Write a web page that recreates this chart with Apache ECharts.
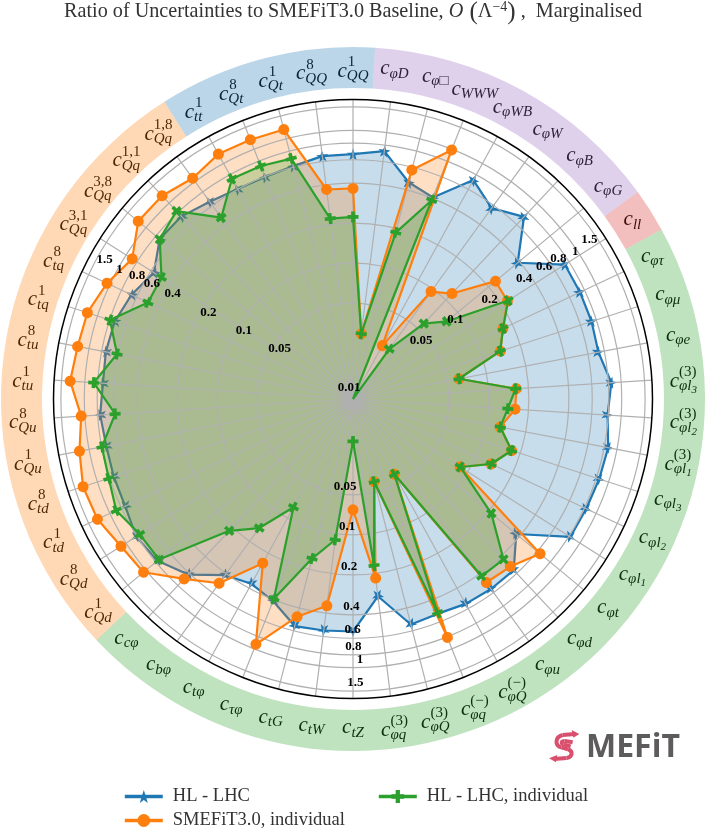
<!DOCTYPE html>
<html>
<head>
<meta charset="utf-8">
<style>html,body{margin:0;padding:0;background:#fff}#c{width:706px;height:829px}</style>
<script src="https://cdn.jsdelivr.net/npm/echarts@6/dist/echarts.min.js"></script>
</head>
<body>
<div id="c"></div>
<script>
// Coefficient labels, clockwise from north: sub^sup, "_" starts a second-level subscript
const coefficients = [
 'QQ^1','φD','φ□','WWW','φWB','φW','φB','φG','ll','φτ','φμ','φe',
 'φl_3^(3)','φl_2^(3)','φl_1^(3)','φl_3','φl_2','φl_1','φt','φd','φu',
 'φQ^(−)','φq^(−)','φQ^(3)','φq^(3)','tZ','tW','tG','τφ','tφ','bφ','cφ',
 'Qd^1','Qd^8','td^1','td^8','Qu^1','Qu^8','tu^1','tu^8','tq^1','tq^8',
 'Qq^3,1','Qq^3,8','Qq^1,1','Qq^1,8','tt^1','Qt^8','Qt^1','QQ^8'
];
const hlLhc = [.661,.721,.459,.407,.721,.566,.721,.386,.734,.734,.734,.721,.843,.79,.857,.843,.828,.822,.373,.556,.556,.546,.519,.537,.298,.534,.542,.552,.41,.367,.414,.617,.773,.814,.746,.743,.738,.766,.73,.744,.731,.661,.566,.734,.73,.65,.604,.596,.613,.661];
const smefit = [.365,.0297,.571,.985,.0273,.0949,.1165,.234,.226,.168,.139,.0616,.162,.1585,.1275,.171,.134,.0856,.639,.51,.484,.042,.808,.0417,.217,.0648,.352,.467,.919,.244,.492,.684,1.056,1.112,1.268,1.3,1.184,1.065,1.291,1.224,1.202,1.056,.883,1.19,1.192,1.074,1.205,1.192,1.179,.369];
const hlIndividual = [.223,.0297,.1866,.386,.0095,.0277,.057,.0782,.2297,.168,.139,.0616,.1597,.1397,.1275,.171,.134,.0856,.213,.429,.421,.042,.51,.0417,.174,.0198,.111,.165,.393,.0808,.1507,.218,.746,.756,.885,.814,.797,.591,.857,.61,.797,.482,.484,.734,.828,.462,.74,.731,.701,.222];
const ringTicks = [0.05,0.1,0.2,0.4,0.6,0.8,1,1.5];
const tickLabels = ['0.05','0.1','0.2','0.4','0.6','0.8','1','1.5'];
const bandCounts = [7,1,23,14,5];

// layout and style
const CX = 353, CY = 399, R = 299.5;
const RMIN = 0.0095, RMAX = 1.705, LABEL_R = 2.94;
const SERIF = '"Liberation Serif", serif';
const BLUE='#1f77b4', ORANGE='#ff7f0e', GREEN='#2ca02c';
const bandColors = ['rgba(148,103,189,.3)','rgba(214,39,40,.3)','rgba(44,160,44,.3)','rgba(255,127,14,.3)','rgba(31,119,180,.3)'];
const STAR='path://M0,-10L2.35,-3.24L9.51,-3.09L3.8,1.24L5.88,8.09L0,4L-5.88,8.09L-3.8,1.24L-9.51,-3.09L-2.35,-3.24Z';
const PLUS='path://M-1,-3H1V-1H3V1H1V3H-1V1H-3V-1H-1Z';
const tickDirs = [{a:59,dx:-14,dy:-9,one:6},{a:297,dx:12,dy:-7,one:-6},{a:177,dx:-13,dy:-8,one:6}];

const N = coefficients.length;
const theta = i => i*360/N;
const closed = arr => arr.map((v,i)=>[v,theta(i)]).concat([[arr[0],360]]);

const ctx = document.createElement('canvas').getContext('2d');
const tw = (t,font) => { ctx.font = font; return ctx.measureText(t).width; };
const F_C = 'italic 21px '+SERIF, F_S = 'italic 15px '+SERIF, F_SS='italic 11px '+SERIF, F_U='15px '+SERIF;

function renderCoefficient(params, api){
  const p = api.coord([api.value(0), api.value(1)]);
  const [subPart, sup] = coefficients[params.dataIndex].split('^');
  const [sub, subsub] = subPart.split('_');
  const w0 = tw('c',F_C), wSub = tw(sub,F_S)+(subsub?tw(subsub,F_SS):0), wSup = sup?tw(sup,F_U):0;
  const total = w0+Math.max(wSub,wSup);
  const x0 = p[0]-total/2;
  const y0 = p[1]+(sup?3:-2);
  const fill='#000';
  const kids=[
    {type:'text',style:{text:'c',x:x0,y:y0,font:F_C,fill,align:'left',verticalAlign:'middle'}},
    {type:'text',style:{text:sub,x:x0+w0,y:y0+5,font:F_S,fill,align:'left',verticalAlign:'middle'}}
  ];
  if(subsub) kids.push({type:'text',style:{text:subsub,x:x0+w0+tw(sub,F_S),y:y0+9,font:F_SS,fill,align:'left',verticalAlign:'middle'}});
  if(sup) kids.push({type:'text',style:{text:sup,x:x0+w0+(sup.length>2?0:1),y:y0-9,font:F_U,fill,align:'left',verticalAlign:'middle'}});
  return {type:'group',children:kids};
}
function renderRing(params, api){
  const c = params.coordSys;
  const p = api.coord([api.value(0),0]);
  return {type:'circle',shape:{cx:c.cx,cy:c.cy,r:Math.hypot(p[0]-c.cx,p[1]-c.cy)},style:{fill:'none',stroke:'#b0b0b0',lineWidth:1.2}};
}
const tickData=[];
tickDirs.forEach(d=>ringTicks.forEach((v,i)=>tickData.push([v,d.a,d.dx+(tickLabels[i]==='1'?d.one:0),d.dy,tickLabels[i]])));
tickData.push([0.01,0,-4,-8,'0.01']);
function renderTick(params, api){
  const row = tickData[params.dataIndex];
  const p = api.coord([row[0],row[1]]);
  return {type:'text',style:{text:row[4],x:p[0]+row[2],y:p[1]+row[3],font:'bold 13px '+SERIF,fill:'#000',align:'center',verticalAlign:'middle'}};
}
const area=(name,arr,color,z)=>({name,type:'line',coordinateSystem:'polar',data:closed(arr),z,silent:true,symbol:'none',
  lineStyle:{width:0,opacity:0},areaStyle:{color,opacity:.25,origin:'start'},clip:false});
const line=(name,arr,color,z,symbol,size)=>({name,type:'line',coordinateSystem:'polar',data:closed(arr),z,silent:true,clip:false,
  symbol,symbolSize:(v,p)=>(p.dataIndex===N||v[0]<=RMIN)?0:size,symbolRotate:v=>-v[1],
  lineStyle:{color,width:2.2},itemStyle:{color}});

// logo pieces, in 3x logo units
const LX=u=>540+u/3, LY=u=>715+u/3;
const PINK='#d9506e';
const logoStroke={stroke:PINK,lineWidth:4,fill:'none'};
const seg=(a,b,c,d)=>({type:'line',silent:true,shape:{x1:LX(a),y1:LY(b),x2:LX(c),y2:LY(d)},style:logoStroke});
const bez=(a,b,c,d,e,f,g,h)=>({type:'bezierCurve',silent:true,shape:{x1:LX(a),y1:LY(b),cpx1:LX(c),cpy1:LY(d),cpx2:LX(e),cpy2:LY(f),x2:LX(g),y2:LY(h)},style:logoStroke});
const tri=(pts)=>({type:'polygon',silent:true,shape:{points:pts.map(p=>[LX(p[0]),LY(p[1])])},style:{fill:PINK}});

const legendBase={orient:'vertical',itemWidth:38,itemHeight:16,padding:0,selectedMode:false,symbolRotate:0,
  lineStyle:{width:3.6},textStyle:{fontFamily:SERIF,fontSize:18.5,color:'#333',padding:[0,0,0,5]}};

const chart = echarts.init(document.getElementById('c'),null,{renderer:'canvas',width:706,height:829});
chart.setOption({
  animation:false,
  backgroundColor:'#fff',
  title:{left:'center',top:0,padding:0,itemGap:0,
    text:'{r|Ratio of Uncertainties to SMEFiT3.0 Baseline, }{i|O}{p| (}{r|Λ}{s|−4}{p|)}{r| ,  Marginalised}',
    textStyle:{fontWeight:'normal',rich:{
      r:{fontFamily:SERIF,fontSize:20.2,color:'#333',lineHeight:24},
      i:{fontFamily:SERIF,fontSize:20.2,fontStyle:'italic',color:'#333',lineHeight:24},
      p:{fontFamily:SERIF,fontSize:25,color:'#333',lineHeight:24},
      s:{fontFamily:SERIF,fontSize:14,color:'#333',verticalAlign:'top',lineHeight:22}
    }}},
  polar:{center:[CX,CY],radius:[0,R]},
  angleAxis:{type:'value',min:0,max:360,interval:7.2,startAngle:90,clockwise:true,z:5,
    axisLine:{show:true,lineStyle:{color:'#000',width:1.5}},axisTick:{show:false},axisLabel:{show:false},
    splitLine:{show:true,lineStyle:{color:'#b0b0b0',width:1.2}}},
  radiusAxis:{type:'log',min:RMIN,max:RMAX,z:5,axisLine:{show:false},axisTick:{show:false},axisLabel:{show:false},splitLine:{show:false},minorSplitLine:{show:false}},
  legend:[
    Object.assign({},legendBase,{data:['HL - LHC'],left:123,top:787}),
    Object.assign({},legendBase,{data:['SMEFiT3.0, individual'],left:123,top:811}),
    Object.assign({},legendBase,{data:['HL - LHC, individual'],left:377,top:787})
  ],
  series:[
    area('blue fill',hlLhc,BLUE,1),
    line('HL - LHC',hlLhc,BLUE,2,STAR,12),
    area('orange fill',smefit,ORANGE,3),
    area('green fill',hlIndividual,GREEN,4),
    {name:'rings',type:'custom',coordinateSystem:'polar',data:ringTicks.map(v=>[v,0]),renderItem:renderRing,z:5,silent:true},
    line('SMEFiT3.0, individual',smefit,ORANGE,6,'circle',11),
    line('HL - LHC, individual',hlIndividual,GREEN,7,PLUS,11),
    {name:'tick labels',type:'custom',coordinateSystem:'polar',data:tickData.map(r=>[r[0],r[1]]),renderItem:renderTick,z:12,silent:true},
    {name:'coefficient labels',type:'custom',coordinateSystem:'polar',data:coefficients.map((c,i)=>[LABEL_R,theta(i)]),renderItem:renderCoefficient,z:14,silent:true},
    {name:'bands',type:'pie',center:[CX,CY],radius:[311,352],startAngle:86.4,clockwise:true,z:15,silent:true,
      label:{show:false},labelLine:{show:false},emphasis:{disabled:true},
      data:bandCounts.map((v,i)=>({value:v,name:'band'+i,itemStyle:{color:bandColors[i]}}))}
  ],
  graphic:[
    seg(105,57,68,60), bez(68,60,44,66,44,92,64,97), seg(64,97,84,103), bez(84,103,100,108,98,126,80,129), seg(80,129,42,132),
    seg(98,82,74,78), bez(74,78,64,78,62,86,70,88), seg(70,88,92,94),
    tri([[95,45],[118,57],[100,68]]), tri([[27,130],[52,120],[48,142]]),
    {type:'text',left:586,top:732,silent:true,style:{text:'MEFiT',font:'bold 32px "Open Sans", sans-serif',fill:'#5d5b5b'}}
  ]
});
</script>
</body>
</html>
